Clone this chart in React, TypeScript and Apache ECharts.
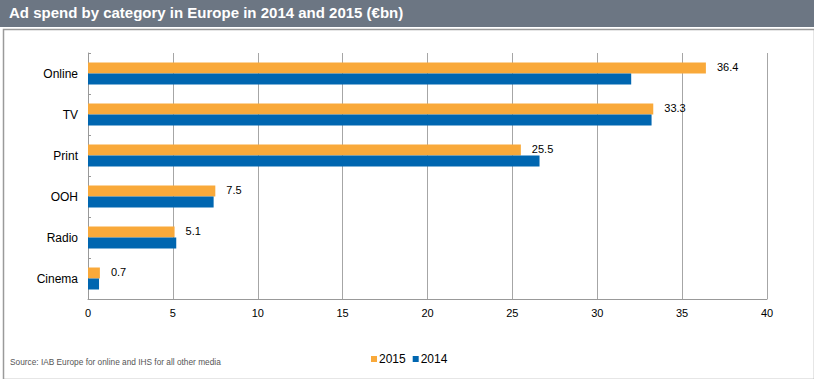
import React, { useEffect, useRef } from "react";
import * as echarts from "echarts";

const categories = ["Online", "TV", "Print", "OOH", "Radio", "Cinema"];
const values2015 = [36.4, 33.3, 25.5, 7.5, 5.1, 0.7];
const values2014 = [32.0, 33.2, 26.6, 7.4, 5.2, 0.65];
const seriesNames = ["2015", "2014"];
const xTicks = { min: 0, max: 40, interval: 5 };
const titleText = "Ad spend by category in Europe in 2014 and 2015 (€bn)";
const sourceText = "Source: IAB Europe for online and IHS for all other media";

export default function App() {
  const ref = useRef<HTMLDivElement>(null);
  useEffect(() => {
    document.body.style.margin = "0";
    const chart = echarts.init(ref.current!, null, { renderer: "svg" });
    const font = "Arial, 'Liberation Sans', sans-serif";
    chart.setOption({
      animation: false,
      backgroundColor: "#ffffff",
      textStyle: { fontFamily: font },
      title: {
        text: titleText,
        left: 9,
        top: 5,
        padding: 0,
        textStyle: { color: "#ffffff", fontSize: 15, fontWeight: "bold", fontFamily: font },
      },
      graphic: [
        { type: "rect", left: 0, top: 0, z: -1, shape: { width: 814, height: 27 }, style: { fill: "#6c7683" } },
        { type: "rect", left: 1, top: 27, z: -1, shape: { width: 811, height: 350 }, style: { fill: "none", stroke: "#9a9a9a", lineWidth: 1.5 } },
        { type: "text", left: 10, top: 358, style: { text: sourceText, fill: "#555555", fontSize: 8.3, fontFamily: font } },
      ],
      legend: {
        data: seriesNames,
        left: 366,
        top: 348,
        itemWidth: 6,
        itemHeight: 6,
        itemGap: 7,
        icon: "rect",
        textStyle: { fontSize: 12, color: "#000", padding: [0, 0, 0, -3] },
      },
      grid: { left: 88, right: 47, top: 53, bottom: 80, containLabel: false },
      xAxis: {
        type: "value",
        min: xTicks.min,
        max: xTicks.max,
        interval: xTicks.interval,
        axisLine: { show: true, lineStyle: { color: "#999999" } },
        axisTick: { show: false },
        axisLabel: { color: "#000", fontSize: 11, margin: 8 },
        splitLine: { show: true, lineStyle: { color: "#a6a6a6", width: 1 } },
      },
      yAxis: {
        type: "category",
        data: categories,
        inverse: true,
        axisLine: { show: true, lineStyle: { color: "#999999" } },
        axisTick: { show: true, inside: true, length: 3, lineStyle: { color: "#999999" } },
        axisLabel: { color: "#000", fontSize: 12, margin: 10 },
      },
      series: [
        {
          name: seriesNames[0],
          type: "bar",
          data: values2015,
          barWidth: 11,
          barGap: "0%",
          itemStyle: { color: "#f9a93a" },
          label: { show: true, position: "right", distance: 11, color: "#000", fontSize: 11, offset: [0, -1] },
        },
        {
          name: seriesNames[1],
          type: "bar",
          data: values2014,
          barWidth: 11,
          barGap: "0%",
          itemStyle: { color: "#0066b0" },
        },
      ],
    });
    return () => chart.dispose();
  }, []);
  return <div ref={ref} style={{ width: 814, height: 379 }} />;
}
